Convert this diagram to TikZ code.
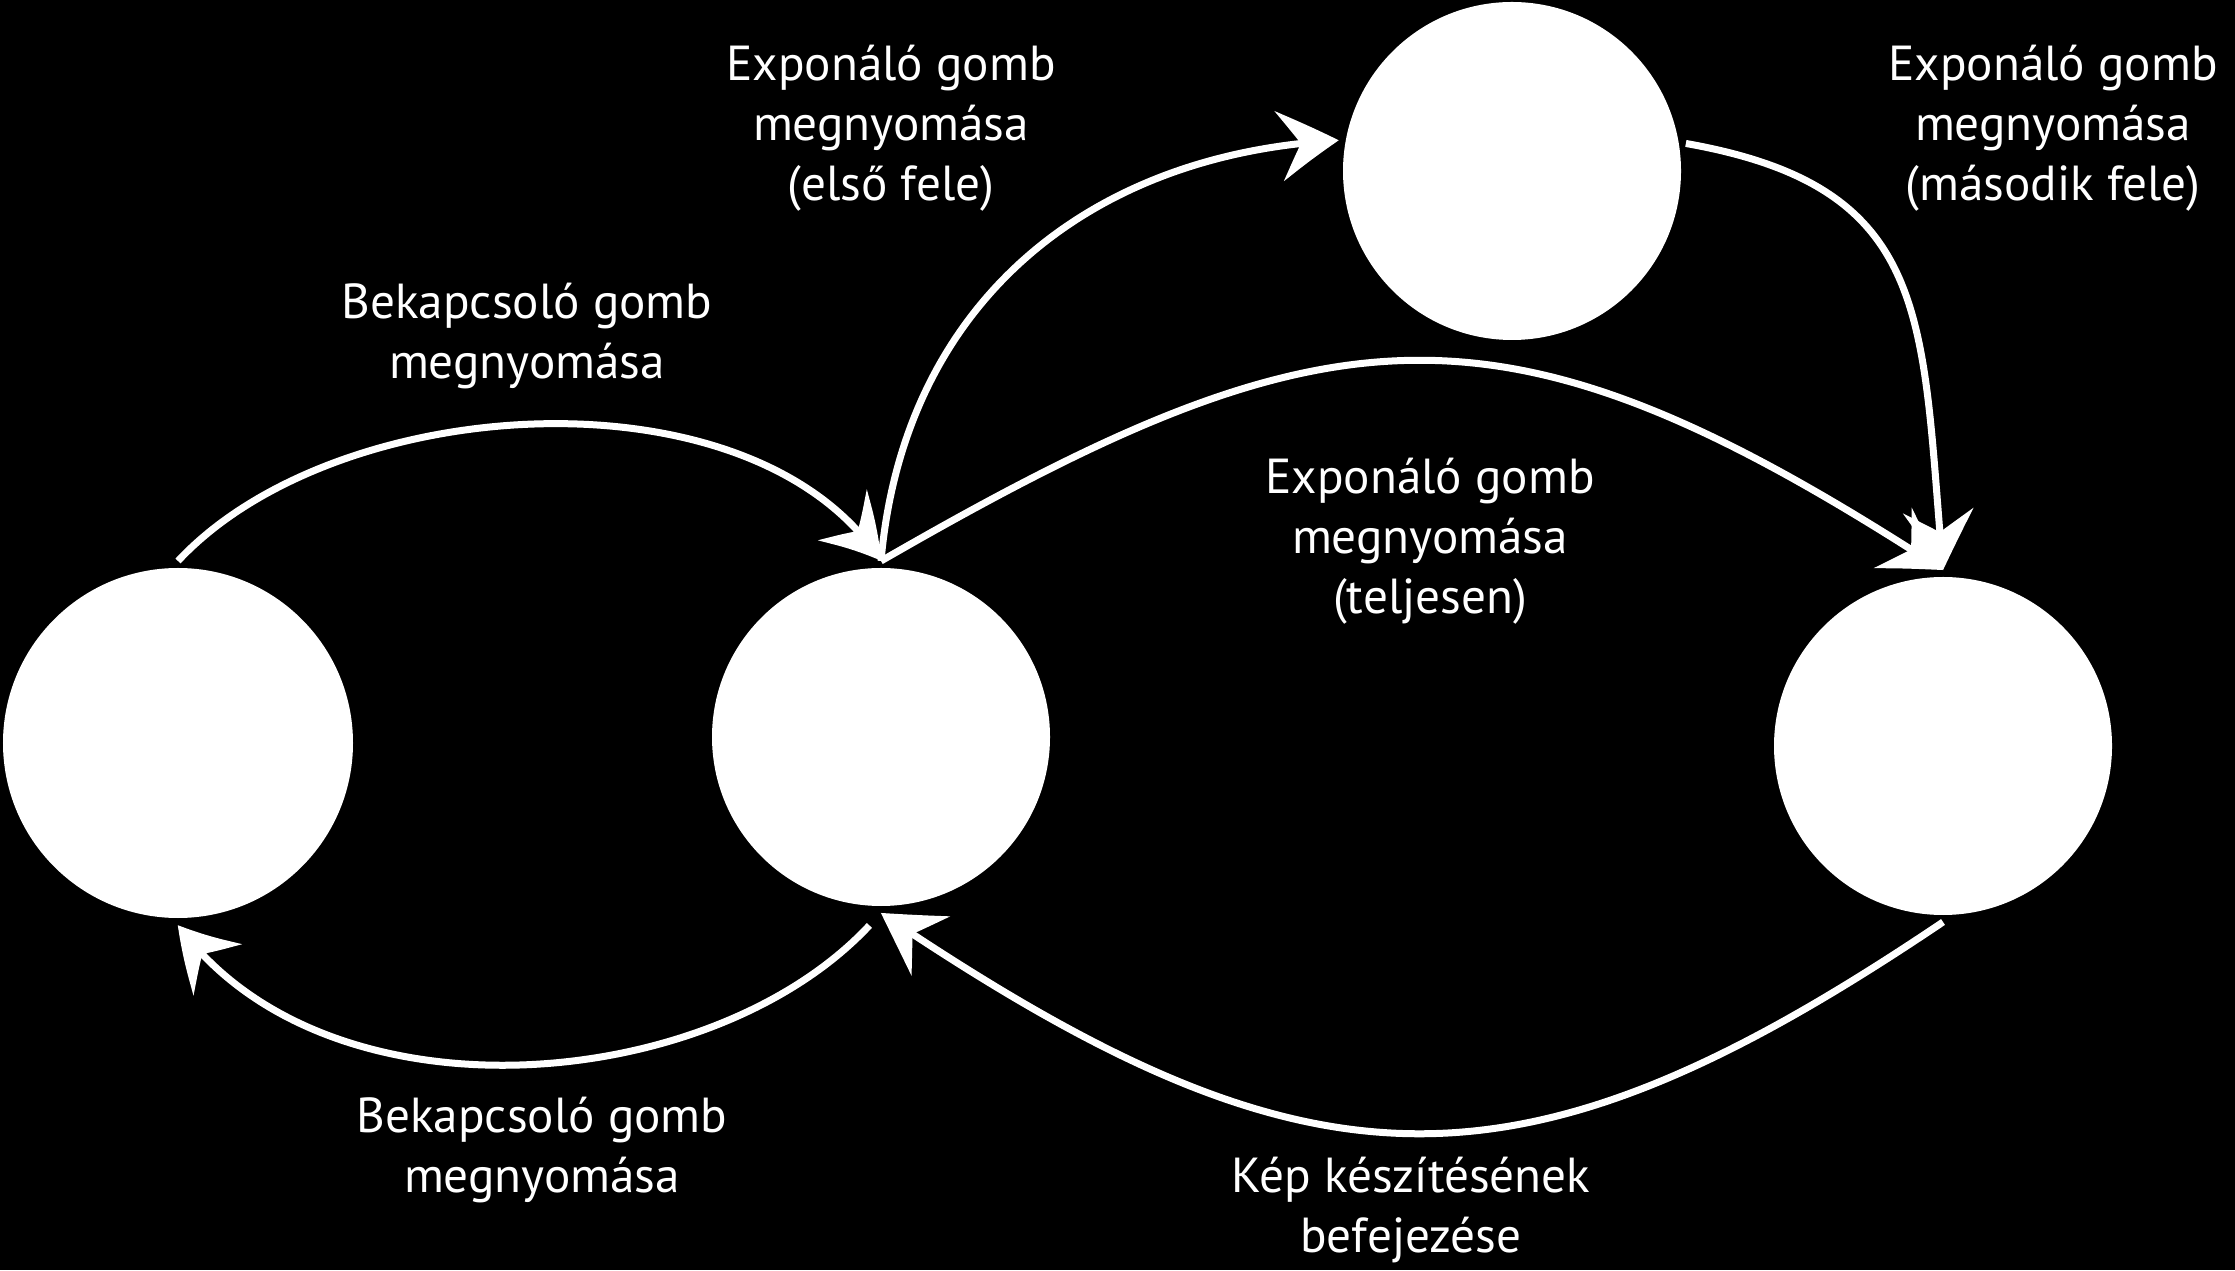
\documentclass[tikz,border=0pt]{standalone}
\usepackage{fontspec}
\setmainfont{PT Sans}
\usepackage{tikz}
\usetikzlibrary{arrows.meta,bending}

\tikzset{
    state/.style={circle, fill=white, minimum size=3.38cm, inner sep=0, outer sep=0.07cm},
    trans/.style={white, line width=0.07cm, -{Stealth[length=0.6cm, width=0.7cm, inset=0.22cm, bend]}},
    lab/.style={white, align=center, font=\fontsize{14pt}{17pt}\selectfont}
}

\begin{document}
\begin{tikzpicture}
    \fill[black] (0, 0) rectangle (22.35, 12.70);
    \useasboundingbox (0, 0) rectangle (22.35, 12.70);

        \node[state, minimum size=3.5cm] (off) at (1.78, 5.27) {};
        \node[state] (ready) at (8.81, 5.33) {};
        \node[state] (focus) at (15.12, 10.99) {};
        \node[state] (shot) at (19.43, 5.24) {};

        \draw[trans] (off.north) to[out=47, in=123, looseness=0.85] (ready.north);
        \draw[trans, shorten <=0.17cm] (ready.south) to[out=227, in=306, looseness=0.91] (off.south);
        \draw[trans] (ready.north) to[out=85, in=183, looseness=1.05] (focus.170);
        \draw[trans] (focus.9) to[out=-10, in=95, looseness=1.3] (shot.north);
        \draw[trans] (ready.north) to[out=30, in=147, looseness=1.26] (shot.north);
        \draw[trans] (shot.south) to[out=214, in=-34, looseness=1.24] (ready.south);

        \node[lab] (onA) at (5.27, 9.34) {Bekapcsoló gomb\\megnyomása};
        \node[lab] (onB) at (5.42, 1.20) {Bekapcsoló gomb\\megnyomása};
        \node[lab] (half1) at (8.91, 11.42) {Exponáló gomb\\megnyomása\\(első fele)};
        \node[lab] (half2) at (20.53, 11.42) {Exponáló gomb\\megnyomása\\(második fele)};
        \node[lab] (full) at (14.30, 7.29) {Exponáló gomb\\megnyomása\\(teljesen)};
        \node[lab] (done) at (14.11, 0.60) {Kép készítésének\\befejezése};
    \end{tikzpicture}
\end{document}
